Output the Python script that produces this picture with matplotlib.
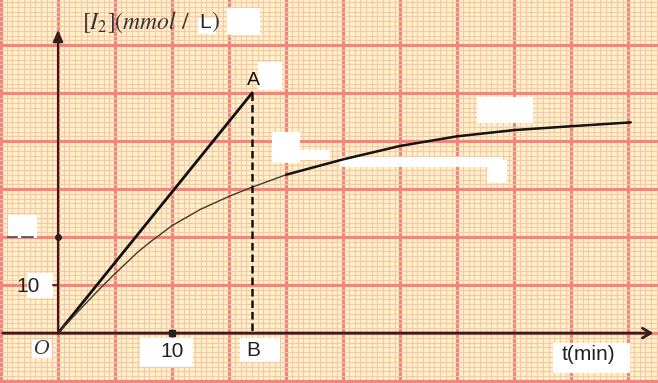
import matplotlib
matplotlib.use("Agg")
import matplotlib.pyplot as plt
from matplotlib.ticker import MultipleLocator
from matplotlib.patches import Rectangle

# ---- data ----
t_curve = [0, 1.8, 3.4, 5.0, 7.0, 8.2, 10, 12.5, 15, 16.9, 20, 25, 30, 35, 40, 45, 50.2]
c_curve = [0, 4.6, 8.6, 12.4, 16.9, 19.2, 22.4, 25.8, 28.5, 30.3, 33.0, 36.2, 39.0, 41.0, 42.3, 43.1, 43.9]
inked_from = 10  # index from which the curve is re-inked in bold
t_tangent = [0, 17]
c_tangent = [0, 50]
point_A = (17, 50)
point_B = (17, 0)
x_tick_labels = ["10"]
y_tick_labels = ["10"]

fig = plt.figure(figsize=(6.58, 3.83), dpi=100)
ax = fig.add_axes([0, 0, 1, 1])
ax.set_xlim(-5.09, 52.6)
ax.set_ylim(-10.4, 69.4)
ax.set_facecolor("#fff3c2")

# graph paper grid
ax.xaxis.set_major_locator(MultipleLocator(5))
ax.yaxis.set_major_locator(MultipleLocator(10))
ax.xaxis.set_minor_locator(MultipleLocator(0.5))
ax.yaxis.set_minor_locator(MultipleLocator(1))
ax.grid(which="minor", color="#f8c4b4", lw=0.8, zorder=0)
ax.grid(which="major", color="#f3847f", lw=2.3, zorder=0.5)
ax.set_axisbelow(True)
ax.tick_params(which="both", length=0, labelbottom=False, labelleft=False)
for s in ax.spines.values():
    s.set_visible(False)

# white erasure patches (data coords from pixel estimates)
def px(x, y):
    return ((x - 58) / 11.4, (333 - y) / 4.8)

def white_box(x0, y0, x1, y1):
    a = px(x0, y1)
    b = px(x1, y0)
    ax.add_patch(Rectangle(a, b[0] - a[0], b[1] - a[1], facecolor="white",
                           edgecolor="none", zorder=1))

white_box(227, 8, 260, 35)
white_box(198, 18, 216, 34)
white_box(258, 62, 282, 90)
white_box(272, 132, 300, 163)
white_box(283, 150, 330, 160)
white_box(340, 157, 503, 167)
white_box(487, 160, 507, 183)
white_box(477, 97, 533, 123)
white_box(8, 215, 37, 238)
white_box(140, 338, 193, 367)
white_box(240, 338, 280, 362)
white_box(27, 273, 53, 298)
white_box(553, 343, 630, 373)
white_box(32, 340, 52, 358)

# axes
axis_col = "#3b1c1c"
ax.annotate("", xy=(52.45, 0), xytext=(-5.09, 0),
            arrowprops=dict(arrowstyle="->,head_length=0.6,head_width=0.35",
                            color=axis_col, lw=2.0), zorder=4)
ax.annotate("", xy=(0, 63.8), xytext=(0, 0),
            arrowprops=dict(arrowstyle="-|>,head_length=0.7,head_width=0.3",
                            color=axis_col, lw=1.6), zorder=4)

# tick marks
ax.plot([-0.45, 0], [10, 10], color=axis_col, lw=1.2, zorder=4)
ax.plot([0], [20], marker="o", ms=4, color="#222222", zorder=5)
ax.plot([10], [0], marker="s", ms=4.5, color="#222222", zorder=5)
ax.plot([-4.4, -3.6], [20, 20], color="#444444", lw=1.2, zorder=4)
ax.plot([-3.2, -2.2], [20, 20], color="#444444", lw=1.2, zorder=4)

# tangent, curve, dashed line
ax.plot(t_tangent, c_tangent, color="#111111", lw=2.0, zorder=3)
ax.plot(t_curve, c_curve, color="#3d3a2a", lw=1.0, zorder=3,
        solid_joinstyle="round")
ax.plot(t_curve[inked_from:], c_curve[inked_from:], color="#151515", lw=1.8,
        zorder=3, solid_joinstyle="round", solid_capstyle="round")
ax.plot([point_A[0], point_B[0]], [point_A[1], point_B[1]], color="#111111",
        lw=1.8, ls=(0, (3, 1.6)), zorder=3)

# labels
sans = "Liberation Sans"
ax.text(10, -3.9, x_tick_labels[0], fontsize=15, family=sans, ha="center",
        va="center", color="#222222", zorder=6)
ax.text(-2.6, 9.8, y_tick_labels[0], fontsize=15, family=sans, ha="center",
        va="center", color="#222222", zorder=6)
ax.text(17.1, -3.6, "B", fontsize=15, family=sans, ha="center", va="center",
        color="#222222", zorder=6)
ax.text(17.1, 52.7, "A", fontsize=14, family=sans, ha="center", va="center",
        color="#111111", zorder=6)
ax.text(-1.45, -3.4, "O", fontsize=14, family="DejaVu Serif", style="italic",
        ha="center", va="center", color="#333333", zorder=6)
ax.text(46.5, -4.4, "t(min)", fontsize=15, family=sans, ha="center",
        va="center", color="#222222", zorder=6)
ax.text(82 / 658, 1 - 22 / 383, r"$[I_2](mmol\ /$", fontsize=17, ha="left",
        va="center", color="#333333", zorder=6, math_fontfamily="stix",
        transform=fig.transFigure)
ax.text(199 / 658, 1 - 22 / 383, "L", fontsize=15, family=sans, ha="left",
        va="center", color="#222222", zorder=6, transform=fig.transFigure)
ax.text(211 / 658, 1 - 22 / 383, r"$)$", fontsize=17, ha="left",
        va="center", color="#333333", zorder=6, math_fontfamily="stix",
        transform=fig.transFigure)

fig.savefig("out.png", dpi=100)
